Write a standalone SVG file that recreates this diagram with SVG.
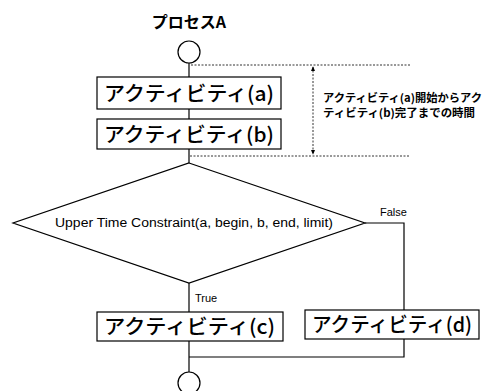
<svg xmlns="http://www.w3.org/2000/svg" width="485" height="391" viewBox="0 0 485 391">
<style>
.box{fill:#fff;stroke:#000;stroke-width:1.2}
.ln{fill:none;stroke:#000;stroke-width:1.2}
.dot{fill:none;stroke:#333;stroke-width:1;stroke-dasharray:2,1.5}
.jp{font-family:"Noto Sans CJK JP","Noto Sans",sans-serif;fill:#000}
.bt{font-size:20px;font-weight:500}
.en{font-family:"Liberation Sans",Arial,sans-serif;fill:#000}
</style>
<defs>
<marker id="ah" viewBox="0 0 6 6" refX="5" refY="3" markerWidth="5" markerHeight="5" orient="auto-start-reverse">
<path d="M0,0.5 L6,3 L0,5.5 z" fill="#000"/>
</marker>
</defs>
<rect width="485" height="391" fill="#fff"/>
<text class="jp" x="189" y="28" font-size="16" font-weight="700" text-anchor="middle">プロセスA</text>
<g id="connectors">
<line class="ln" x1="189" y1="63" x2="189" y2="77"/>
<line class="ln" x1="189" y1="109" x2="189" y2="119"/>
<line class="ln" x1="189" y1="149" x2="189" y2="163"/>
<line class="ln" x1="189" y1="283" x2="189" y2="312"/>
<line class="ln" x1="189" y1="341" x2="189" y2="372"/>
<polyline class="ln" points="365,223 404,223 404,357 189,357"/>
<text class="en" x="195" y="302" font-size="11">True</text>
<text class="en" x="380" y="216" font-size="11">False</text>
<line class="dot" x1="191" y1="65" x2="410" y2="65"/>
<line class="dot" x1="190" y1="156" x2="410" y2="156"/>
<line class="dot" x1="313" y1="67" x2="313" y2="154" marker-start="url(#ah)" marker-end="url(#ah)"/>
</g>
<g id="start"><circle class="box" cx="189" cy="52" r="11"/></g>
<g id="act-a"><rect class="box" x="97" y="77" width="184" height="32"/><text class="jp bt" x="104" y="101" textLength="170" lengthAdjust="spacingAndGlyphs">アクティビティ(a)</text></g>
<g id="act-b"><rect class="box" x="97" y="119" width="184" height="30"/><text class="jp bt" x="104" y="142" textLength="170" lengthAdjust="spacingAndGlyphs">アクティビティ(b)</text></g>
<g id="note"><text class="jp" font-size="11" font-weight="700" x="323" y="102" textLength="159" lengthAdjust="spacingAndGlyphs">アクティビティ(a)開始からアク</text><text class="jp" font-size="11" font-weight="700" x="323" y="117" textLength="152" lengthAdjust="spacingAndGlyphs">ティビティ(b)完了までの時間</text></g>
<g id="decision"><polygon class="box" points="189,163 365,223 189,283 13,223"/><text class="en" x="55" y="227" font-size="12" textLength="278" lengthAdjust="spacingAndGlyphs">Upper Time Constraint(a, begin, b, end, limit)</text></g>
<g id="act-c"><rect class="box" x="97" y="312" width="186" height="29"/><text class="jp bt" x="104" y="334" textLength="171" lengthAdjust="spacingAndGlyphs">アクティビティ(c)</text></g>
<g id="act-d"><rect class="box" x="305" y="310" width="174" height="29"/><text class="jp bt" x="312" y="332" textLength="160" lengthAdjust="spacingAndGlyphs">アクティビティ(d)</text></g>
<g id="end"><circle class="box" cx="189" cy="383" r="11"/></g>
</svg>
